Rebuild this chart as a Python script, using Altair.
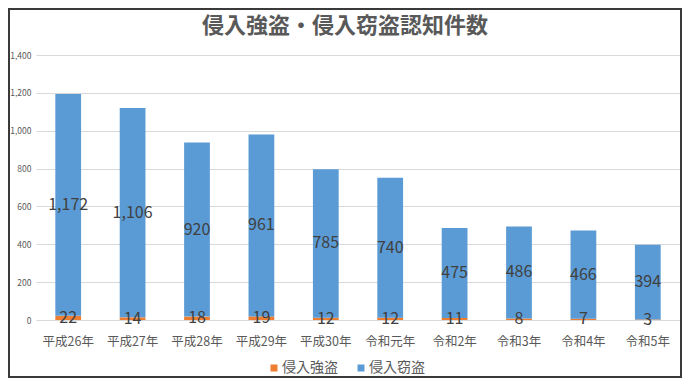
import altair as alt
import pandas as pd

years = ["平成26年", "平成27年", "平成28年", "平成29年", "平成30年",
         "令和元年", "令和2年", "令和3年", "令和4年", "令和5年"]
robbery = [22, 14, 18, 19, 12, 12, 11, 8, 7, 3]          # 侵入強盗
burglary = [1172, 1106, 920, 961, 785, 740, 475, 486, 466, 394]  # 侵入窃盗
series = ["侵入強盗", "侵入窃盗"]
colors = ["#ED7D31", "#5B9BD5"]
y_ticks = [0, 200, 400, 600, 800, 1000, 1200, 1400]

rows = []
for i, y in enumerate(years):
    rows.append({"year": y, "series": series[0], "value": robbery[i], "ord": 0})
    rows.append({"year": y, "series": series[1], "value": burglary[i], "ord": 1})
df = pd.DataFrame(rows)

FONT = "Noto Sans CJK JP"
PL = 28
W, H = 644, 265

y_scale = alt.Scale(domain=[0, 1400], nice=False, zero=True)
y_axis = alt.Axis(title=None, values=y_ticks, format=",.0f", domain=False,
                  ticks=False, tickSize=0, grid=True, gridColor="#d9d9d9",
                  labelFontSize=8.5, labelColor="#595959", labelFont=FONT,
                  labelPadding=5, labelOverlap=False)
x_scale = alt.Scale(paddingInner=0.6, paddingOuter=0.3)
x_axis = alt.Axis(title=None, labelAngle=0, domain=False, ticks=False,
                  tickSize=0, labelFontSize=12.5, labelColor="#595959",
                  labelFont=FONT, labelPadding=15)

base = alt.Chart(df)

bars = base.mark_bar().encode(
    x=alt.X("year:N", sort=years, scale=x_scale, axis=x_axis),
    y=alt.Y("value:Q", stack="zero", scale=y_scale, axis=y_axis),
    color=alt.Color("series:N", sort=series,
                    scale=alt.Scale(domain=series, range=colors),
                    legend=alt.Legend(title=None, orient="none", direction="horizontal",
                                      legendX=231, legendY=306,
                                      symbolType="square", symbolSize=49,
                                      symbolStrokeWidth=0, labelFontSize=14,
                                      labelColor="#595959", labelFont=FONT,
                                      columnPadding=16, labelOffset=1)),
    order=alt.Order("ord:Q", sort="ascending"),
)

labels = base.transform_stack(
    stack="value", groupby=["year"], as_=["y0", "y1"],
    sort=[alt.SortField("ord", order="ascending")]
).transform_calculate(
    mid="(datum.y0 + datum.y1) / 2"
).mark_text(fontSize=16, color="#404040", font=FONT, baseline="middle").encode(
    x=alt.X("year:N", sort=years, scale=x_scale, axis=x_axis),
    y=alt.Y("mid:Q", scale=y_scale, axis=y_axis),
    text=alt.Text("value:Q", format=",.0f"),
)

border = alt.Chart(pd.DataFrame({"a": [0]})).mark_rect(
    fill="transparent", stroke="#3a3a3a", strokeWidth=2
).encode(
    x=alt.value(-(PL - 1)), x2=alt.value(W + 1),
    y=alt.value(-46), y2=alt.value(H + 57),
)

chart = alt.layer(bars, labels, border).properties(
    width=W, height=H,
    autosize=alt.AutoSizeParams(type="none"),
    padding={"left": PL, "top": 47, "right": 2, "bottom": 58},
    title=alt.TitleParams("侵入強盗・侵入窃盗認知件数", fontSize=22, fontWeight="bold",
                          color="#595959", font=FONT, anchor="middle", offset=-30, dx=-13),
).configure_view(stroke=None)

chart.save("out.html", embed_options={"renderer": "svg", "actions": False})
